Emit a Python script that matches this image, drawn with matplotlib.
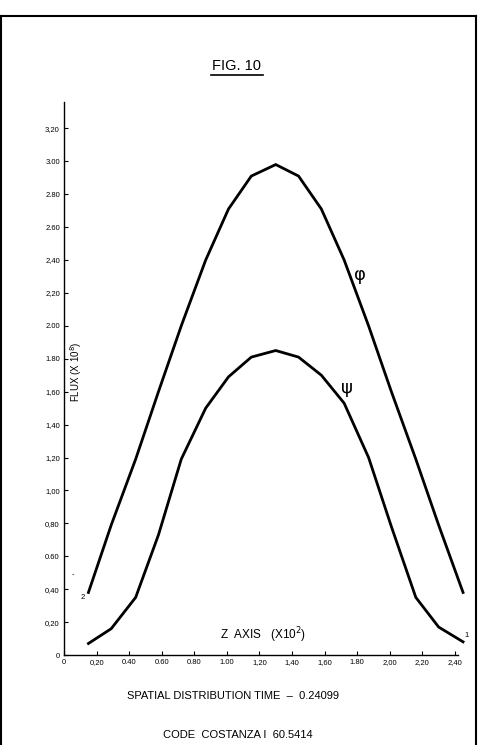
import matplotlib
matplotlib.use("Agg")
import matplotlib.pyplot as plt
from matplotlib.lines import Line2D

# ---- data ----
z_axis = [0.15, 0.29, 0.44, 0.58, 0.72, 0.87, 1.01, 1.15, 1.30, 1.44, 1.58, 1.72, 1.87, 2.01, 2.16, 2.30, 2.45]
phi = [0.38, 0.79, 1.19, 1.60, 2.00, 2.40, 2.71, 2.91, 2.98, 2.91, 2.71, 2.40, 2.00, 1.60, 1.19, 0.79, 0.38]
psi = [0.07, 0.16, 0.35, 0.73, 1.19, 1.50, 1.69, 1.81, 1.85, 1.81, 1.70, 1.53, 1.20, 0.78, 0.35, 0.17, 0.08]
x_ticks = [0, 0.2, 0.4, 0.6, 0.8, 1.0, 1.2, 1.4, 1.6, 1.8, 2.0, 2.2, 2.4]
x_tick_labels = ["0", "0,20", "0.40", "0.60", "0.80", "1.00", "1,20", "1,40", "1,60", "1.80", "2,00", "2,20", "2,40"]
y_ticks = [0, 0.2, 0.4, 0.6, 0.8, 1.0, 1.2, 1.4, 1.6, 1.8, 2.0, 2.2, 2.4, 2.6, 2.8, 3.0, 3.2]
y_tick_labels = ["0", "0,20", "0,40", "0.60", "0,80", "1,00", "1,20", "1,40", "1,60", "1.80", "2.00", "2,20", "2,40", "2.60", "2.80", "3.00", "3,20"]

plt.rcParams['font.family'] = ['Liberation Sans', 'DejaVu Sans']

W, H = 483, 745
fig = plt.figure(figsize=(W / 100, H / 100), dpi=100)
fig.patch.set_facecolor("white")

def fx(px):
    return px / W

def fy(py):
    return 1 - py / H

ax_left, ax_right, ax_top, ax_bottom = 64, 458, 102, 655
ax = fig.add_axes([fx(ax_left), fy(ax_bottom), (ax_right - ax_left) / W, (ax_bottom - ax_top) / H])
ax.set_xlim(0, 2.419)
ax.set_ylim(0, 3.36)
for s in ["top", "right"]:
    ax.spines[s].set_visible(False)
for s in ["left", "bottom"]:
    ax.spines[s].set_linewidth(1.0)

ax.set_xticks(x_ticks)
ax.set_xticklabels(x_tick_labels)
ax.set_yticks(y_ticks)
ax.set_yticklabels(y_tick_labels)
ax.tick_params(axis="both", direction="in", length=3, width=0.8, labelsize=5.5, pad=3)

ax.plot(z_axis, phi, color="black", lw=2.0, clip_on=False, solid_joinstyle="miter")
ax.plot(z_axis, psi, color="black", lw=2.0, clip_on=False, solid_joinstyle="miter")

ax.text(1.82, 2.31, "\u03c6", fontsize=13, ha="center", va="center", family="DejaVu Sans")
ax.text(1.735, 1.62, "\u03c8", fontsize=13, ha="center", va="center", family="DejaVu Sans")
ax.text(0.115, 0.35, "2", fontsize=5.5, ha="center", va="center")
ax.text(0.057, 0.49, "-", fontsize=5, ha="center", va="center")
ax.text(2.47, 0.12, "1", fontsize=5.5, ha="center", va="center", clip_on=False)

ax.text(1.22, 0.12, "Z  AXIS   (X10$^{2}$)", fontsize=8.5, ha="center", va="center")
ax.text(0.075, 1.72, "FLUX (X 10$^{8}$)", fontsize=7, ha="center", va="center", rotation=90)

# titles
fig.text(fx(237), fy(66), "FIG. 10", fontsize=10.5, ha="center", va="center")
fig.add_artist(Line2D([fx(211), fx(263)], [fy(75), fy(75)], color="black", lw=1.2))
fig.text(fx(233), fy(696), "SPATIAL DISTRIBUTION TIME  \u2013  0.24099", fontsize=8, ha="center", va="center")
fig.text(fx(238), fy(735), "CODE  COSTANZA I  60.5414", fontsize=8, ha="center", va="center")

# frame
fig.add_artist(Line2D([fx(1), fx(1)], [fy(745), fy(16)], color="black", lw=1.5))
fig.add_artist(Line2D([fx(1), fx(476)], [fy(16), fy(16)], color="black", lw=1.5))
fig.add_artist(Line2D([fx(476), fx(476)], [fy(16), fy(745)], color="black", lw=1.5))

fig.savefig("out.png", dpi=100, facecolor="white")
